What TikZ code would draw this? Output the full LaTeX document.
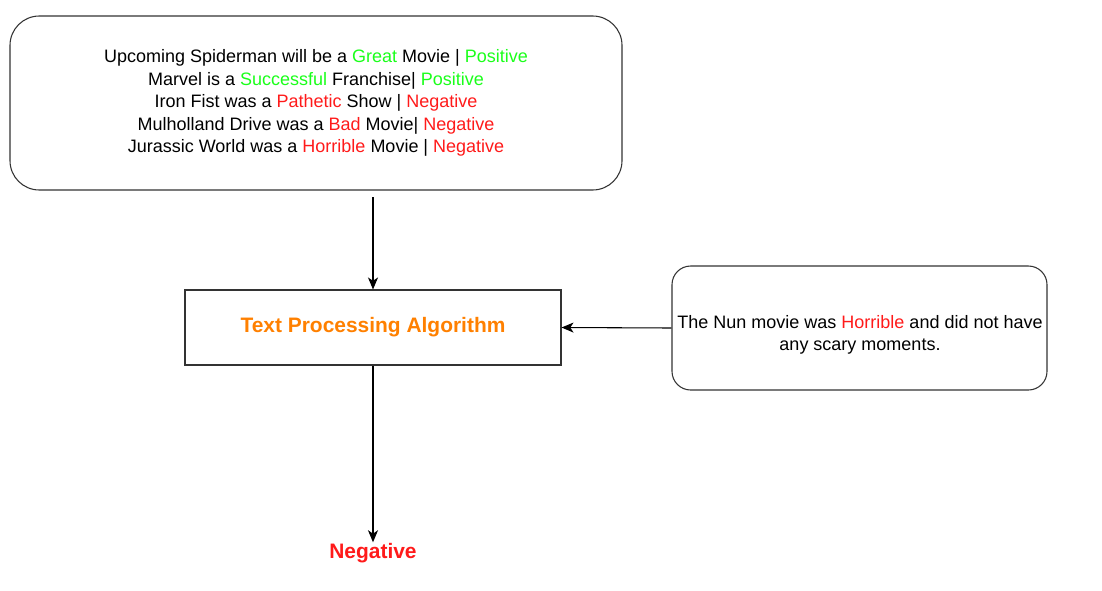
\documentclass[tikz,border=0pt]{standalone}
\usepackage{fontspec}
\setmainfont{Liberation Sans}
\usepackage{tikz}
\usetikzlibrary{arrows.meta}
\definecolor{posgreen}{HTML}{1AFF1A}
\definecolor{negred}{HTML}{FF1A1A}
\definecolor{algorange}{HTML}{FF8000}
\newcommand{\pos}[1]{\textcolor{posgreen}{#1}}
\newcommand{\negw}[1]{\textcolor{negred}{#1}}

\begin{document}
\begin{tikzpicture}[>={Stealth[length=9pt,width=7.5pt,inset=2.5pt]}, x=0.75pt, y=-0.75pt,
		roundbox/.style={draw=black!80, line width=0.8pt, align=center, inner sep=0pt},
		algbox/.style={draw=black!80, line width=0.8pt, inner sep=0pt,
			minimum width=282pt, minimum height=56.25pt,
			font=\fontsize{15.7}{19}\selectfont\bfseries, text=algorange},
		plain/.style={font=\fontsize{13.5}{16.9}\selectfont, align=center}]
			%%%	Area
			\useasboundingbox (0,0) rectangle (1102,590);
			%%%	Disegno
			\node [roundbox, plain, rounded corners=22pt, minimum width=459pt, minimum height=130.5pt]
				(train) at (316,103) {Upcoming Spiderman will be a \pos{Great} Movie | \pos{Positive}\\
				Marvel is a \pos{Successful} Franchise| \pos{Positive}\\
				Iron Fist was a \negw{Pathetic} Show | \negw{Negative}\\
				Mulholland Drive was a \negw{Bad} Movie| \negw{Negative}\\
				Jurassic World was a \negw{Horrible} Movie | \negw{Negative}};
			\node [algbox] (alg) at (373,327.5) {Text Processing Algorithm};
			\node [roundbox, rounded corners=14pt, minimum width=281.25pt, minimum height=93pt]
				(nun) at (859.5,328) {};
			\node [plain] (nuntext) at (860,335) {The Nun movie was \negw{Horrible} and did not have\\
				any scary moments.};
			\node [inner sep=0.5pt, font=\fontsize{15.7}{19}\selectfont\bfseries, text=negred]
				(result) at (373,553) {Negative};
			\coordinate (trainout) at (373,197);

			\draw [->, line width=0.8pt] (trainout) -- (alg.north);
			\draw [->, line width=0.8pt] (nun.west) -- (alg.east);
			\draw [->, line width=0.8pt] (alg.south) -- (result.north);
		\end{tikzpicture}
\end{document}
